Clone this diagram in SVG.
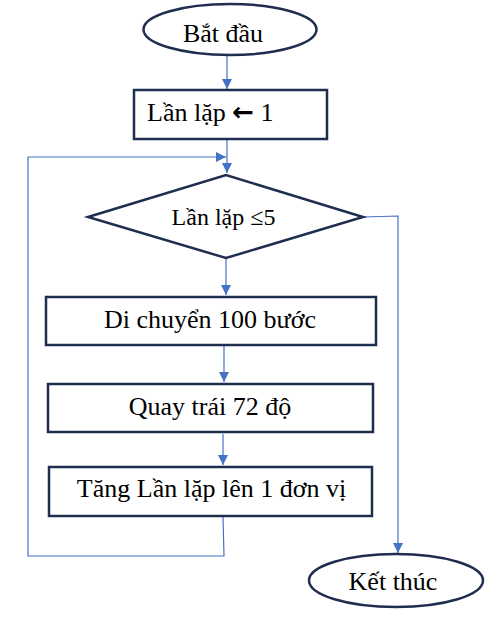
<svg xmlns="http://www.w3.org/2000/svg" width="502" height="617" viewBox="0 0 502 617">
<style>
.node{fill:#fff;stroke:#1f2d4f;stroke-width:2.5}
.conn{fill:none;stroke:#4472c4;stroke-width:1.2}
.t{font-family:'Liberation Serif','Times New Roman','DejaVu Serif',serif;font-size:26px;fill:#000}
.c{text-anchor:middle}
</style>
<defs>
<marker id="ah" viewBox="0 0 10 10" refX="10" refY="5" markerWidth="10" markerHeight="10" markerUnits="userSpaceOnUse" orient="auto">
<path d="M0,0 L10,5 L0,10 Z" fill="#4472c4"/>
</marker>
</defs>
<rect width="502" height="617" fill="#fff"/>
<g id="connectors">
<path class="conn" d="M227,56 V89" marker-end="url(#ah)"/>
<path class="conn" d="M227,140 V173" marker-end="url(#ah)"/>
<path class="conn" d="M223,517 L224,556 H28 V157 H226" marker-end="url(#ah)"/>
<path class="conn" d="M363,217 L398,216 V553" marker-end="url(#ah)"/>
<path class="conn" d="M226,259 V295" marker-end="url(#ah)"/>
<path class="conn" d="M224,346 V382" marker-end="url(#ah)"/>
<path class="conn" d="M223,434 V465" marker-end="url(#ah)"/>
</g>
<g id="start">
<ellipse class="node" cx="230" cy="29.5" rx="86.5" ry="25.5"/>
<text class="t c" x="223" y="42">Bắt đầu</text>
</g>
<g id="init">
<rect class="node" x="134" y="90" width="193" height="49"/>
<text class="t" x="147" y="121">Lần lặp <tspan font-family="DejaVu Sans,sans-serif" font-weight="bold">←</tspan> 1</text>
</g>
<g id="cond">
<polygon class="node" points="88,217 226,175 363,217 226,258"/>
<text class="t c" x="223.5" y="225" style="font-size:24px">Lần lặp ≤5</text>
</g>
<g id="move">
<rect class="node" x="46" y="297" width="330" height="48"/>
<text class="t c" x="210" y="328">Di chuyển 100 bước</text>
</g>
<g id="turn">
<rect class="node" x="48" y="384" width="325" height="48"/>
<text class="t c" x="210" y="415">Quay trái 72 độ</text>
</g>
<g id="inc">
<rect class="node" x="49" y="467" width="323" height="49"/>
<text class="t c" x="211.5" y="497">Tăng Lần lặp lên 1 đơn vị</text>
</g>
<g id="end">
<ellipse class="node" cx="396" cy="580.5" rx="87" ry="26.5"/>
<text class="t c" x="393" y="590">Kết thúc</text>
</g>
</svg>
